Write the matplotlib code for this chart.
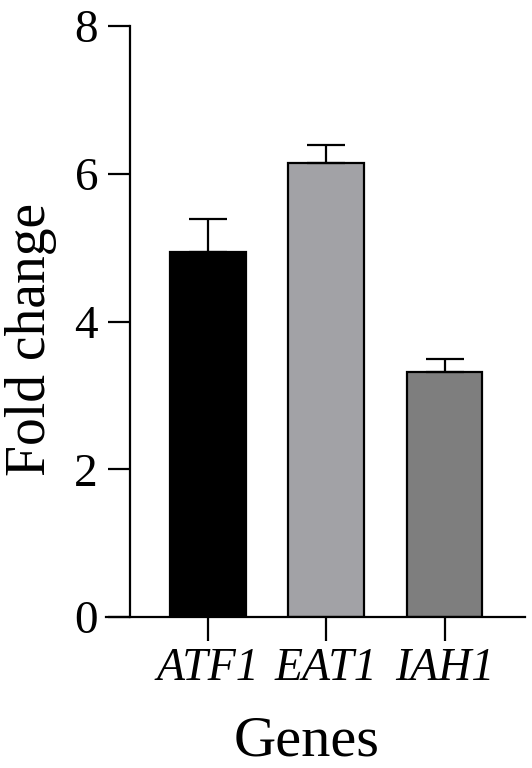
import numpy as np
import matplotlib
matplotlib.use("Agg")
import matplotlib.pyplot as plt

plt.rcParams['font.family'] = ['Liberation Serif', 'DejaVu Serif']

genes = ['ATF1', 'EAT1', 'IAH1']
fold_change = [4.94, 6.15, 3.31]
sem = [0.45, 0.24, 0.18]
bar_colors = ['#000000', '#a2a2a6', '#7e7e7e']

fig = plt.figure(figsize=(5.32, 7.68), dpi=100)
ax = fig.add_axes([130 / 532, 1 - 617 / 768, 395 / 532, 591 / 768])

x = np.arange(len(genes))
ax.bar(x, fold_change, width=0.64, color=bar_colors, edgecolor='black', linewidth=1.6, zorder=2)
# upper error bars only
ax.errorbar(x, fold_change, yerr=[np.zeros(len(sem)), sem], fmt='none', ecolor='black',
            elinewidth=1.6, capsize=14, capthick=1.6, zorder=3)

ax.set_xlim(-0.66, 2.68)
ax.set_ylim(0, 8)
ax.set_yticks([0, 2, 4, 6, 8])
ax.set_xticks(x)
ax.set_xticklabels(genes, style='italic', fontsize=33)

for s in ['top', 'right']:
    ax.spines[s].set_visible(False)
ax.spines['left'].set_linewidth(1.6)
ax.spines['bottom'].set_linewidth(1.6)
ax.spines['bottom'].set_bounds(-0.86, 2.68)

ax.tick_params(axis='y', length=16, width=1.6, pad=7, labelsize=34)
ax.tick_params(axis='x', length=17, width=1.6, pad=5)

ax.text(-0.25, 0.47, 'Fold change', transform=ax.transAxes, rotation=90,
        ha='center', va='center', fontsize=40)
ax.text(0.448, -0.21, 'Genes', transform=ax.transAxes,
        ha='center', va='center', fontsize=42)

fig.savefig('out.png', dpi=100)
